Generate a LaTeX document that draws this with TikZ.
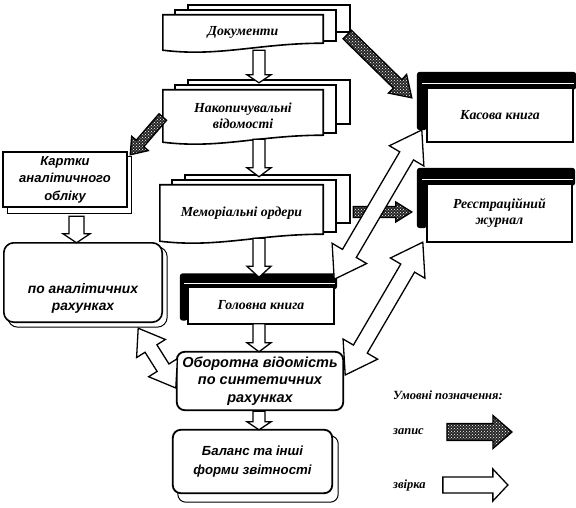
\documentclass[tikz,border=0pt]{standalone}
\usepackage{fontspec}
\setmainfont{Liberation Serif}
\newfontfamily\sansf{Liberation Sans}
\usetikzlibrary{calc,backgrounds,patterns}

\tikzset{
  lbl/.style={font=\bfseries\itshape\fontsize{13.8}{15.5}\selectfont, align=center, inner sep=0pt},
  slbl/.style={font=\sansf\bfseries\itshape\fontsize{13.8}{17.5}\selectfont, align=center, inner sep=0pt},
  leglbl/.style={font=\bfseries\itshape\fontsize{12.5}{14}\selectfont, inner sep=0pt},
  box/.style={inner sep=0pt},
  outl/.style={draw=black, line width=1.6pt, fill=white},
  rec/.style={draw=black, line width=1.3pt, fill=white},
  hatch/.style={draw=black, line width=1.3pt, preaction={fill=black!85}, pattern=crosshatch dots, pattern color=white},
  hollow/.style={draw=black, line width=1.3pt, fill=white},
}

% single block arrow: style, from, to, shaft half width, head half width, head length
\newcommand\blkarrow[6]{%
  \path (#2) coordinate (ba-s) (#3) coordinate (ba-e);
  \coordinate (ba-h) at ($(ba-e)!#6!(ba-s)$);
  \draw[#1] ($(ba-s)!#4!90:(ba-e)$) -- ($(ba-h)!#4!90:(ba-e)$) -- ($(ba-h)!#5!90:(ba-e)$) -- (ba-e)
    -- ($(ba-h)!#5!-90:(ba-e)$) -- ($(ba-h)!#4!-90:(ba-e)$) -- ($(ba-s)!#4!-90:(ba-e)$) -- cycle;}

% double block arrow
\newcommand\dblarrow[6]{%
  \path (#2) coordinate (da-s) (#3) coordinate (da-e);
  \coordinate (da-h1) at ($(da-s)!#6!(da-e)$);
  \coordinate (da-h2) at ($(da-e)!#6!(da-s)$);
  \draw[#1] (da-s) -- ($(da-h1)!#5!90:(da-e)$) -- ($(da-h1)!#4!90:(da-e)$) -- ($(da-h2)!#4!90:(da-e)$)
    -- ($(da-h2)!#5!90:(da-e)$) -- (da-e) -- ($(da-h2)!#5!-90:(da-e)$) -- ($(da-h2)!#4!-90:(da-e)$)
    -- ($(da-h1)!#4!-90:(da-e)$) -- ($(da-h1)!#5!-90:(da-e)$) -- cycle;}

% stacked documents behind node #1
\newcommand\docstack[1]{%
  \draw[outl] ($(#1.north west)+(25,-10)$) rectangle ($(#1.south east)+(27,-18)$);
  \draw[outl] ($(#1.north west)+(12,-5)$) rectangle ($(#1.south east)+(13,-9)$);
  \draw[outl] (#1.north west) -- (#1.north east) -- ($(#1.south east)+(0,-7)$)
    .. controls ($(#1.south west)!0.6!(#1.south east)+(0,-7)$) and ($(#1.south west)!0.35!(#1.south east)+(0,7)$) .. (#1.south west) -- cycle;}

% 3D black slab behind node #1: left depth, left band shortening
\newcommand\slab[3]{%
  \fill[black, rounded corners=3pt] ($(#1.south west)+(-#2,-#3)$) -- ($(#1.north west)+(-#2,-#2-6)$)
    -- ($(#1.north east)+(3,-#2-6)$) -- ($(#1.north east)+(3,2)$) -- ($(#1.north west)+(0,2)$)
    -- ($(#1.south west)+(0,-#3)$) -- cycle;
  \draw[white, line width=0.8pt] ($(#1.north west)+(-#2/2,-4)$) -- ($(#1.north east)+(1,-4)$);
  \draw[outl] (#1.north west) rectangle (#1.south east);}

\begin{document}
\begin{tikzpicture}[x=1pt,y=-1pt]
\useasboundingbox (0,0) rectangle (576,508);

% ---- nodes
\node[box,lbl,minimum width=160pt,minimum height=35pt] (doc) at (243,32.5) {Документи};
\node[box,lbl,minimum width=160pt,minimum height=52pt] (nak) at (243,116) {Накопичувальні\\відомості};
\node[box,lbl,minimum width=163pt,minimum height=56pt] (mem) at (241.5,213) {Меморіальні ордери};
\node[box,slbl,font=\sansf\bfseries\itshape\fontsize{13}{17.5}\selectfont,minimum width=124pt,minimum height=55pt] (kar) at (65,179.5) {Картки\\аналітичного\\обліку};
\node[box,minimum width=158pt,minimum height=79pt] (anl) at (83,282.5) {};
\node[slbl] (anlt) at (83,298.5) {по аналітичних\\рахунках};
\node[box,lbl,minimum width=146pt,minimum height=36pt] (gol) at (261,305.5) {Головна книга};
\node[box,lbl,minimum width=146pt,minimum height=54pt] (kas) at (500,115) {Касова книга};
\node[box,lbl,minimum width=145pt,minimum height=58pt] (reg) at (499.5,213) {Реєстраційний\\журнал};
\node[box,slbl,font=\sansf\bfseries\itshape\fontsize{14.5}{17.5}\selectfont,minimum width=166pt,minimum height=58pt] (obo) at (260,381) {Оборотна відомість\\по синтетичних\\рахунках};
\node[box,slbl,font=\sansf\bfseries\itshape\fontsize{13.2}{19}\selectfont,minimum width=159pt,minimum height=63pt] (bal) at (252.5,461.5) {Баланс та інші\\форми звітності};

\node[leglbl,anchor=west] (leg) at (393,395) {Умовні позначення:};
\node[leglbl,anchor=west] (zap) at (393,432) {запис};
\node[leglbl,anchor=west] (zvi) at (393,485) {звірка};

% ---- box shapes
\begin{scope}[on background layer]
  \docstack{doc}
  \docstack{nak}
  \docstack{mem}
  \draw[outl, line width=1pt] ($(kar.north west)+(5,5)$) rectangle ($(kar.south east)+(4,6)$);
  \draw[outl] (kar.north west) rectangle (kar.south east);
  \draw[outl, line width=1pt, rounded corners=10pt] ($(anl.north west)+(4,4)$) rectangle ($(anl.south east)+(5,5)$);
  \draw[outl, rounded corners=10pt] (anl.north west) rectangle (anl.south east);
  \slab{gol}{8}{3}
  \slab{kas}{10}{12}
  \slab{reg}{10}{14}
  \draw[outl, line width=1.8pt, rounded corners=8pt] (obo.north west) rectangle (obo.south east);
  \draw[outl, line width=1pt, rounded corners=8pt] ($(bal.north west)+(5,6)$) rectangle ($(bal.south east)+(6,9)$);
  \draw[outl, line width=1.8pt, rounded corners=8pt] (bal.north west) rectangle (bal.south east);
\end{scope}

% ---- record arrows (down)
\blkarrow{rec}{$(doc.south)+(16,0)$}{$(nak.north)+(16,-7)$}{6pt}{12pt}{8pt}
\blkarrow{rec}{$(nak.south)+(16,-3)$}{$(mem.north)+(17.5,-8)$}{6pt}{12pt}{9pt}
\blkarrow{rec}{$(mem.south)+(17.5,-3)$}{$(gol.north)+(-2,-10)$}{6pt}{12pt}{11pt}
\blkarrow{rec}{$(gol.south)+(-2,0)$}{$(obo.north)+(-1,0)$}{6pt}{12pt}{9pt}
\blkarrow{rec}{$(obo.south)+(-1,1)$}{$(bal.north)+(6.5,0)$}{6pt}{12pt}{8pt}
\blkarrow{rec}{$(kar.south)+(11.5,9)$}{$(anl.north)+(-6.5,0)$}{7.5pt}{13.5pt}{9pt}

% ---- hatched record arrows
\blkarrow{hatch}{$(doc.east)+(24,2)$}{$(kas.north west)+(-15,10)$}{6pt}{13pt}{20pt}
\blkarrow{hatch}{$(nak.west)+(0,1)$}{$(kar.north east)+(3,3)$}{5pt}{11pt}{15pt}
\blkarrow{hatch}{$(mem.east)+(30,-1)$}{$(reg.west)+(-15,-1)$}{5.5pt}{10pt}{16pt}

% ---- reconciliation double arrows
\dblarrow{hollow}{$(gol.north east)+(0,-8)$}{$(kas.west)+(-5,15)$}{8pt}{20pt}{30pt}
\dblarrow{hollow}{$(obo.east)+(2,-6)$}{$(reg.south west)+(-4,0)$}{8pt}{20pt}{30pt}
\dblarrow{hollow}{$(anl.south east)+(-24,6)$}{$(obo.west)+(-1,7)$}{7pt}{17pt}{24pt}

% ---- legend arrows
\blkarrow{hatch}{$(zap.east)+(23,0)$}{$(zap.east)+(88,0)$}{8.5pt}{16.5pt}{19pt}
\blkarrow{hollow}{$(zvi.east)+(17,0)$}{$(zvi.east)+(82,0)$}{8pt}{16pt}{15pt}
\end{tikzpicture}
\end{document}
